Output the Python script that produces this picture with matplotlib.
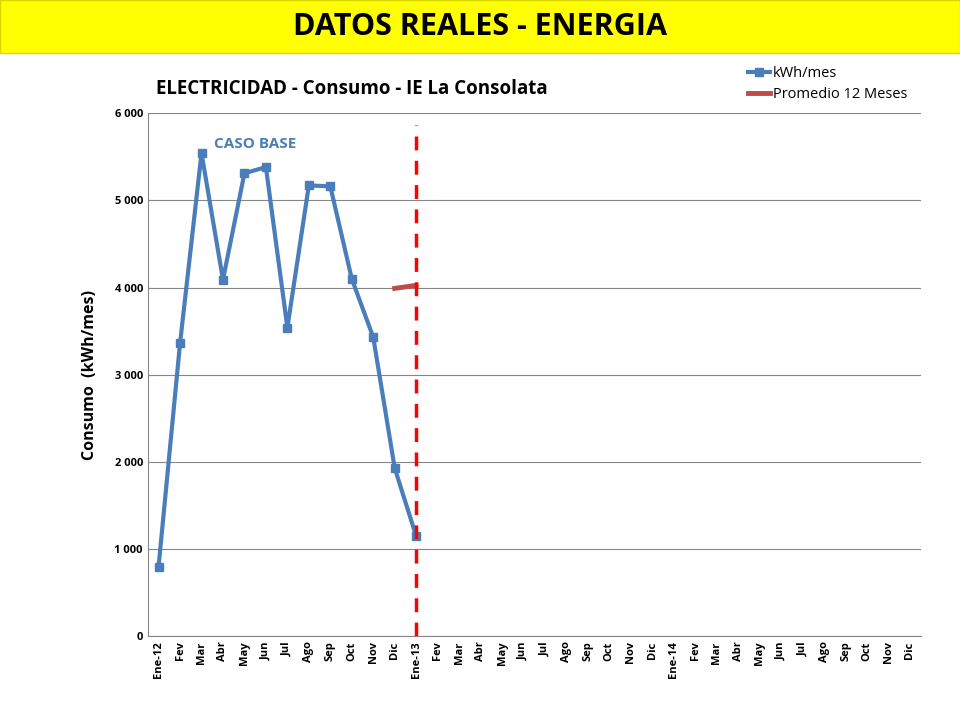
import matplotlib.pyplot as plt
from matplotlib.patches import Rectangle
from matplotlib.ticker import FuncFormatter

plt.rcParams["font.family"] = "Open Sans"

months = ["Ene-12", "Fev", "Mar", "Abr", "May", "Jun", "Jul", "Ago", "Sep", "Oct", "Nov", "Dic",
          "Ene-13", "Fev", "Mar", "Abr", "May", "Jun", "Jul", "Ago", "Sep", "Oct", "Nov", "Dic",
          "Ene-14", "Fev", "Mar", "Abr", "May", "Jun", "Jul", "Ago", "Sep", "Oct", "Nov", "Dic"]
kwh = [800, 3360, 5540, 4090, 5310, 5380, 3540, 5170, 5160, 4100, 3430, 1930, 1150]
avg_x = [11, 12]
avg = [3990, 4025]
base_line = 12

fig = plt.figure(figsize=(9.6, 7.2), dpi=100)

# yellow banner
fig.patches.append(Rectangle((0.0, 0.927), 1.0, 0.073, transform=fig.transFigure,
                             facecolor="#ffff00", edgecolor="#d8d800", zorder=0))
fig.text(0.5, 0.962, "DATOS REALES - ENERGIA", ha="center", va="center",
         fontsize=22, fontweight="bold")

ax = fig.add_axes([0.154, 0.116, 0.805, 0.727])
x = range(len(kwh))
ax.plot(x, kwh, color="#4a7ebb", lw=3, marker="s", ms=6, label="kWh/mes", zorder=3)
ax.plot(avg_x, avg, color="#be4b48", lw=3.5, label="Promedio 12 Meses", zorder=3)
ax.axvline(base_line, ymin=0, ymax=0.977, color="#ff0000", lw=2.5, ls=(0, (4, 3)), zorder=4)
ax.text(2.6, 5600, "CASO BASE", color="#4a7ebb", fontsize=11, fontweight="bold")

ax.set_xlim(-0.5, len(months) - 0.5)
ax.set_ylim(0, 6000)
ax.set_yticks(range(0, 6001, 1000))
ax.yaxis.set_major_formatter(FuncFormatter(lambda v, p: f"{int(v):,}".replace(",", " ")))
ax.set_xticks(range(len(months)))
ax.set_xticklabels(months, rotation=90, fontsize=8, fontweight="bold")
ax.tick_params(axis="y", labelsize=8, length=0)
for lbl in ax.get_yticklabels():
    lbl.set_fontweight("bold")
ax.tick_params(axis="x", length=0)
ax.grid(axis="y", color="#868686", lw=0.8)
ax.set_axisbelow(True)
for s in ["top", "right"]:
    ax.spines[s].set_visible(False)
for s in ["left", "bottom"]:
    ax.spines[s].set_color("#868686")
ax.set_ylabel("Consumo  (kWh/mes)", fontsize=11.5, fontweight="bold", labelpad=12)

fig.text(0.163, 0.869, "ELECTRICIDAD - Consumo - IE La Consolata", fontsize=13.5, fontweight="bold")
ax.legend(loc="upper left", bbox_to_anchor=(0.76, 1.115), frameon=False, fontsize=10.5,
          handlelength=1.5, handletextpad=0.2, labelspacing=0.4)

fig.savefig("out.png")
